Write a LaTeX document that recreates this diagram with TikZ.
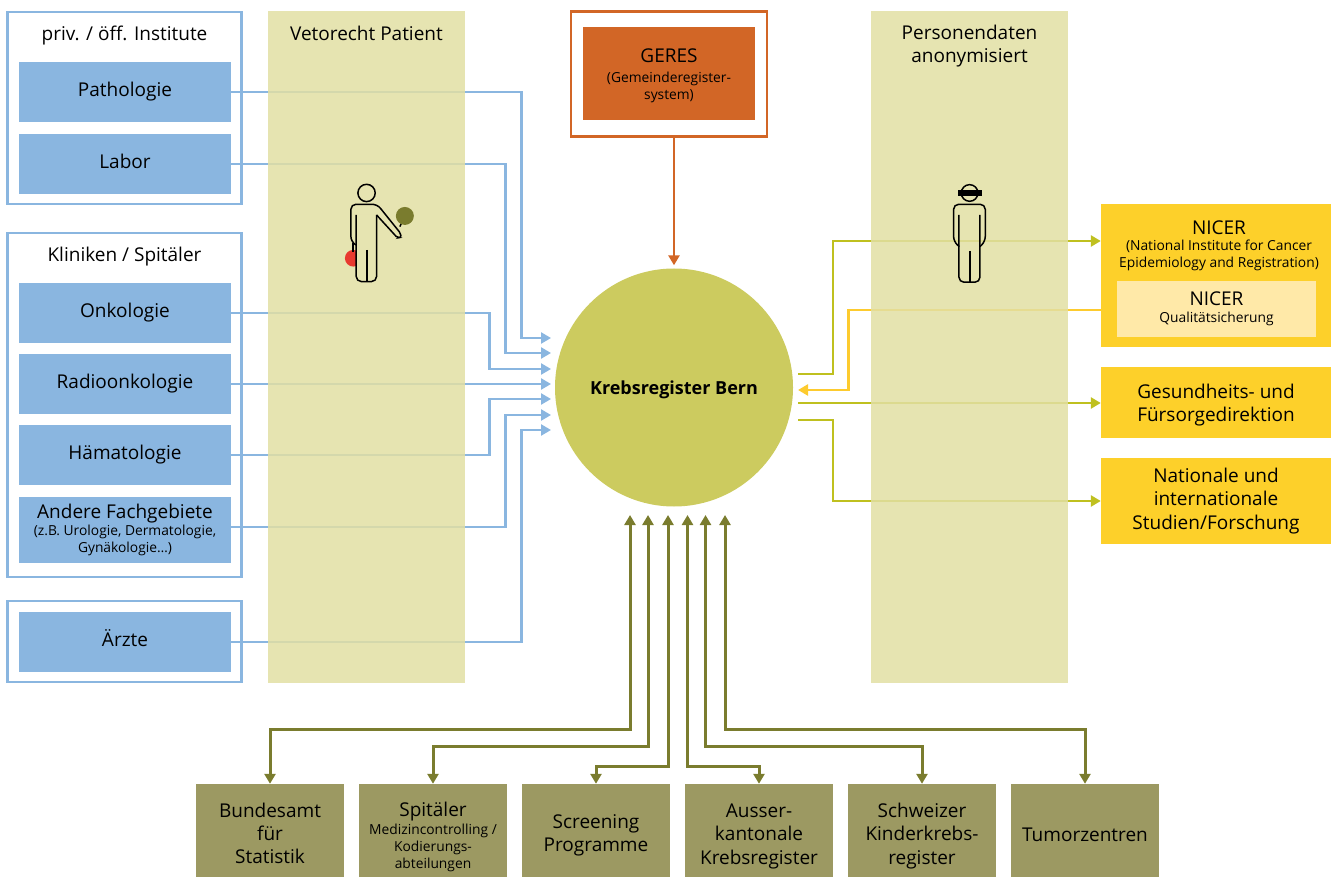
\documentclass[tikz,border=0pt]{standalone}
\usepackage{fontspec}
\setmainfont{Open Sans}
\usetikzlibrary{arrows.meta,positioning}
\definecolor{bluefill}{HTML}{8AB6E0}
\definecolor{orangefill}{HTML}{D26626}
\definecolor{circlefill}{HTML}{CCCB5F}
\definecolor{panelfill}{HTML}{E2DFA3}
\definecolor{panelshown}{HTML}{E6E4B1}
\definecolor{yellowfill}{HTML}{FDD02A}
\definecolor{paleyellow}{HTML}{FFE9A8}
\definecolor{olivefill}{HTML}{9C9962}
\definecolor{oliveline}{HTML}{7A7C2E}
\definecolor{limeline}{HTML}{BFC01F}
\definecolor{yellowline}{HTML}{FDCB2E}
\definecolor{redball}{HTML}{E8392F}
\newcommand{\bigtext}{\fontsize{19}{23.3}\selectfont}
\newcommand{\smalltext}{\fontsize{13.8}{17}\selectfont}
\newcommand{\lead}[1]{\rule{0pt}{#1pt}}
\begin{document}
\begin{tikzpicture}[x=1pt,y=-1pt,node distance=72pt]
    \tikzstyle{textbox} = [rectangle, inner sep=0pt, align=center, font=\bigtext]
    \tikzstyle{single} = [text height=14pt, text depth=5pt]
    \tikzstyle{bluebox} = [textbox, fill=bluefill, minimum width=212pt, minimum height=60pt]
    \tikzstyle{frame} = [rectangle, draw=bluefill, line width=2.7pt, minimum width=234.5pt]
    \tikzstyle{panel} = [rectangle, fill=panelfill, fill opacity=0.85, minimum width=197pt, minimum height=672pt]
    \tikzstyle{yellowbox} = [textbox, fill=yellowfill, minimum width=230pt]
    \tikzstyle{olivebox} = [textbox, fill=olivefill, minimum width=148pt, minimum height=93pt]
    \tikzstyle{arrow} = [line width=2.8pt,->,>={Triangle[length=10pt,width=11pt]}]
    \tikzstyle{bluearrow} = [arrow, draw=bluefill]
    \tikzstyle{limearrow} = [arrow, draw=limeline]
    \tikzstyle{both} = [arrow, <->, line width=3pt, draw=oliveline]
    \tikzstyle{figure} = [line width=1.5pt, rounded corners=5pt]

    \useasboundingbox (0,0) rectangle (1338,877);

    \node (privat) [frame, minimum height=192pt] at (124.5,108) {};
    \node (kliniken) [frame, minimum height=344pt] at (124.5,405) {};
    \node (praxis) [frame, minimum height=81pt] at (124.5,641.5) {};
    \node (privtitle) [textbox, single] at (124.5,36) {priv. / öff. Institute};
    \node (klintitle) [textbox, single] at (124.5,257) {Kliniken / Spitäler};

    \node (pathologie) [bluebox, single] at (125,92) {Pathologie};
    \node (labor) [bluebox, single, below of=pathologie] {Labor};
    \node (onkologie) [bluebox, single] at (125,313) {Onkologie};
    \node (radio) [bluebox, single, below of=onkologie, node distance=71pt] {Radioonkologie};
    \node (haemato) [bluebox, single, below of=radio, node distance=71pt] {Hämatologie};
    \node (andere) [bluebox, below of=haemato, node distance=75pt, minimum height=66pt] {Andere Fachgebiete\\[-6pt]\smalltext (z.B. Urologie, Dermatologie,\\[-6pt]\smalltext Gynäkologie…)};
    \node (aerzte) [bluebox, single] at (125,642) {Ärzte};

    \node (register) [circle, fill=circlefill, minimum size=238pt, inner sep=0pt, font=\fontsize{18}{23}\selectfont\bfseries, text height=19pt, text depth=5pt] at (674,387.5) {Krebsregister Bern};

    \node (geresframe) [rectangle, draw=orangefill, line width=2.7pt, minimum width=196pt, minimum height=125pt] at (669,74) {};
    \node (geres) [textbox, fill=orangefill, minimum width=172pt, minimum height=93pt] at (669,73.5) {\lead{18}GERES\\[-3pt]\smalltext (Gemeinderegister-\\[-6pt]\smalltext system)};

    \node (nicer) [yellowbox, minimum height=143pt] at (1216,275.5) {};
    \node (nicertitle) [textbox, single] at (1219,230) {NICER};
    \node (nicerlong) [textbox, font=\smalltext] at (1219,255) {(National Institute for Cancer\\Epidemiology and Registration)};
    \node (qualitaet) [textbox, fill=paleyellow, minimum width=199pt, minimum height=56pt] at (1216.5,309) {NICER\\[-6pt]\smalltext Qualitätsicherung};
    \node (gesundheit) [yellowbox, minimum height=71pt] at (1216,402.5) {\lead{20}Gesundheits- und\\Fürsorgedirektion};
    \node (studien) [yellowbox, minimum height=86pt] at (1216,501) {Nationale und\\internationale\\Studien/Forschung};

    \node (bundesamt) [olivebox] at (270,830.5) {\lead{20}Bundesamt\\für\\Statistik};
    \node (spitaeler) [olivebox, right of=bundesamt, node distance=163pt] {\lead{28}Spitäler\\[-6pt]\smalltext Medizincontrolling /\\[-6pt]\smalltext Kodierungs-\\[-6pt]\smalltext abteilungen};
    \node (screening) [olivebox, right of=spitaeler, node distance=163pt] {\lead{24}Screening\\Programme};
    \node (ausser) [olivebox, right of=screening, node distance=163pt] {\lead{25}Ausser-\\kantonale\\Krebsregister};
    \node (kinder) [olivebox, right of=ausser, node distance=163pt] {\lead{25}Schweizer\\Kinderkrebs-\\register};
    \node (tumor) [olivebox, single, text height=26pt, right of=kinder, node distance=163pt] {Tumorzentren};

    % ends of the connectors round the circle
    \coordinate (in1) at (551,338);
    \coordinate (in2) at (551,353);
    \coordinate (in3) at (551,369);
    \coordinate (in4) at (551,384);
    \coordinate (in5) at (551,399);
    \coordinate (in6) at (551,415);
    \coordinate (in7) at (551,430);
    \coordinate (out1) at (798,374);
    \coordinate (out2) at (798,390);
    \coordinate (out3) at (798,403);
    \coordinate (out4) at (798,420);
    \coordinate (up1) at (630,515);
    \coordinate (up2) at (648,515);
    \coordinate (up3) at (668,515);
    \coordinate (up4) at (687.5,515);
    \coordinate (up5) at (705.5,515);
    \coordinate (up6) at (725,515);

    \draw [bluearrow] (pathologie.east) -- ++(290,0) |- (in1);
    \draw [bluearrow] (labor.east) -- ++(274,0) |- (in2);
    \draw [bluearrow] (onkologie.east) -- ++(258,0) |- (in3);
    \draw [bluearrow] (radio.east) -- (in4);
    \draw [bluearrow] (haemato.east) -- ++(258,0) |- (in5);
    \draw [bluearrow] ([yshift=3pt]andere.east) -- ++(274,0) |- (in6);
    \draw [bluearrow] (aerzte.east) -- ++(290,0) |- (in7);

    \draw [arrow, draw=orangefill] (geresframe.south -| register) -- ([yshift=3pt]register.north);

    \draw [limearrow] (out1) -- ++(35,0) |- (nicer.west |- 1101,241);
    \draw [arrow, draw=yellowline] (nicer.west |- 1101,310) -- ++(-252,0) |- (out2);
    \draw [limearrow] (out3) -- (gesundheit.west |- out3);
    \draw [limearrow] (out4) -- ++(35,0) |- (studien.west);

    \draw [both] (bundesamt.north) -- ++(0,-54) -| (up1);
    \draw [both] (spitaeler.north) -- ++(0,-37) -| (up2);
    \draw [both] (screening.north) -- ++(0,-17) -| (up3);
    \draw [both] (ausser.north) -- ++(0,-17) -| (up4);
    \draw [both] (kinder.north) -- ++(0,-37) -| (up5);
    \draw [both] (tumor.north) -- ++(0,-54) -| (up6);

    \node (veto) [panel] at (366.5,347) {};
    \node (anonym) [panel] at (969.5,347) {};
    \node (vetotitle) [textbox, single] at (366.5,36) {Vetorecht Patient};
    \node (anonymtitle) [textbox] at (969.5,46) {Personendaten\\anonymisiert};

    % patient with the two balls
    \begin{scope}[shift={(260,160)},x=0.333pt,y=-0.333pt]
        \fill [redball] (280,295) circle (25);
        \draw [line width=1.8pt] (279,250) -- (279,275);
        \draw [figure, fill=panelshown] (289,165) -- (289,365) -- (350,365) -- (350,165);
        \draw [figure] (350,165) [rounded corners=2pt] -- (413,234) -- (424,232) -- (422,220) [rounded corners=5pt] -- (352,133) -- (273,133) -- (273,245) -- (288,255);
        \draw [line width=2pt] (321,270) -- (321,365);
        \draw [line width=1.5pt] (320,99) circle (26);
        \draw [line width=1.5pt] (420,200) -- (426,188);
        \fill [oliveline] (435,168) circle (27);
    \end{scope}
    % person with the bar over the eyes
    \begin{scope}[shift={(900,170)},x=0.333pt,y=-0.333pt]
        \draw [figure] (177,135) -- (177,337) -- (240,337) -- (240,135);
        \draw [figure] (178,230) -- (161,215) -- (161,103) -- (256,103) -- (256,215) -- (240,230);
        \draw [line width=2pt] (209,243) -- (209,337);
        \draw [line width=1.5pt] (209,69) circle (25);
        \fill (174,60) rectangle (246,78);
    \end{scope}
\end{tikzpicture}
\end{document}
